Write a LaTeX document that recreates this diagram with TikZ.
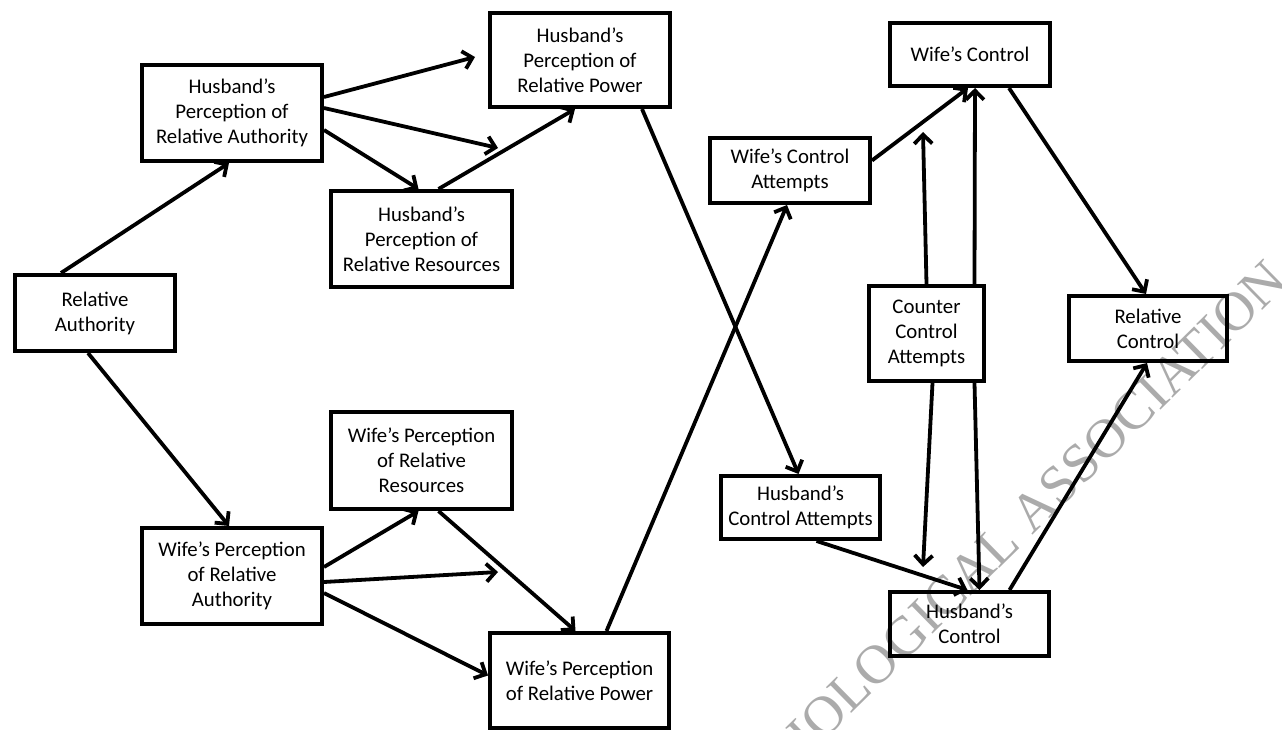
\documentclass[tikz,border=0pt]{standalone}
\usepackage{fontspec}
\setmainfont{Carlito}
\newfontfamily\wmfont{Liberation Serif}
\usetikzlibrary{arrows.meta}
\begin{document}
\begin{tikzpicture}[x=1pt,y=-1pt,
  box/.style={draw, line width=4pt, inner sep=0pt, align=center, font=\fontsize{20.8}{25}\selectfont},
  conn/.style={line width=3.8pt, -{Straight Barb[length=9pt,width=18pt]}},
  wmark/.style={rotate=44.5, anchor=base east, text=black!33, inner sep=0pt, font=\wmfont\fontsize{55}{55}\selectfont}
]
\useasboundingbox (0,0) rectangle (1282,730);
\begin{scope}
\clip (0,0) rectangle (1282,730);
\node[wmark] (wm) at (1290,283) {SOCIOLOGICAL ASSOCIATION};
\end{scope}

\node[box, minimum width=160pt, minimum height=76pt] (ra) at (95,313) {Relative\\Authority};
\node[box, minimum width=180pt, minimum height=96pt] (hpra) at (232,113) {Husband’s\\Perception of\\Relative Authority};
\node[box, minimum width=180pt, minimum height=94pt] (hprp) at (580,60) {Husband’s\\Perception of\\Relative Power};
\node[box, minimum width=181pt, minimum height=96pt] (hprr) at (421.5,239) {Husband’s\\Perception of\\Relative Resources};
\node[box, minimum width=181pt, minimum height=97pt] (wprr) at (421.5,460.5) {Wife’s Perception\\of Relative\\Resources};
\node[box, minimum width=180pt, minimum height=96pt] (wpra) at (232,576) {Wife’s Perception\\of Relative\\Authority};
\node[box, minimum width=179pt, minimum height=95pt] (wprp) at (579.5,680.5) {Wife’s Perception\\of Relative Power};
\node[box, minimum width=160pt, minimum height=65pt] (wca) at (790,170.5) {Wife’s Control\\Attempts};
\node[box, minimum width=160pt, minimum height=63pt] (wc) at (970,54.5) {Wife’s Control};
\node[box, minimum width=115pt, minimum height=95pt] (cca) at (926.5,333.5) {Counter\\Control\\Attempts};
\node[box, minimum width=158pt, minimum height=65pt] (rc) at (1148,328.5) {Relative\\Control};
\node[box, minimum width=159pt, minimum height=63pt] (hca) at (800.5,507.5) {Husband’s\\Control Attempts};
\node[box, minimum width=159pt, minimum height=64pt] (hc) at (969.5,624) {Husband’s\\Control};

\coordinate (m1) at (498,148);
\coordinate (m2) at (498,572);
\coordinate (m3) at (923,132);
\coordinate (m4) at (923,567);

\draw[conn] ([xshift=-34pt]ra.north) -- ([xshift=-3pt]hpra.south);
\draw[conn] ([xshift=-7pt]ra.south) -- ([xshift=-3pt]wpra.north);
\draw[conn] ([yshift=16pt]hpra.east) -- ([xshift=-13pt,yshift=3pt]hprp.west);
\draw[conn] ([yshift=5pt]hpra.east) -- (m1);
\draw[conn] ([yshift=-17pt]hpra.east) -- ([xshift=-3pt]hprr.north);
\draw[conn] ([xshift=17pt]hprr.north) -- ([xshift=-5pt]hprp.south);
\draw[conn] ([yshift=9pt]wpra.east) -- ([xshift=-3pt]wprr.south);
\draw[conn] ([yshift=-6pt]wpra.east) -- (m2);
\draw[conn] ([yshift=-17pt]wpra.east) -- ([yshift=5pt]wprp.west);
\draw[conn] ([xshift=17pt]wprr.south) -- ([xshift=-4pt]wprp.north);
\draw[conn] ([xshift=62pt]hprp.south) -- ([xshift=-2pt]hca.north);
\draw[conn] ([xshift=27pt]wprp.north) -- ([xshift=-3pt]wca.south);
\draw[conn] ([yshift=10pt]wca.east) -- ([xshift=-2pt]wc.south);
\draw[conn] (cca.north) -- (m3);
\draw[conn] ([xshift=48pt]cca.north) -- ([xshift=5pt]wc.south);
\draw[conn] ([xshift=39pt]wc.south) -- ([xshift=-2pt]rc.north);
\draw[conn] ([xshift=6pt]cca.south) -- (m4);
\draw[conn] ([xshift=48pt]cca.south) -- ([xshift=10pt]hc.north);
\draw[conn] ([xshift=16pt]hca.south) -- ([xshift=-2pt]hc.north);
\draw[conn] ([xshift=40pt]hc.north) -- ([xshift=-1pt]rc.south);
\end{tikzpicture}
\end{document}
